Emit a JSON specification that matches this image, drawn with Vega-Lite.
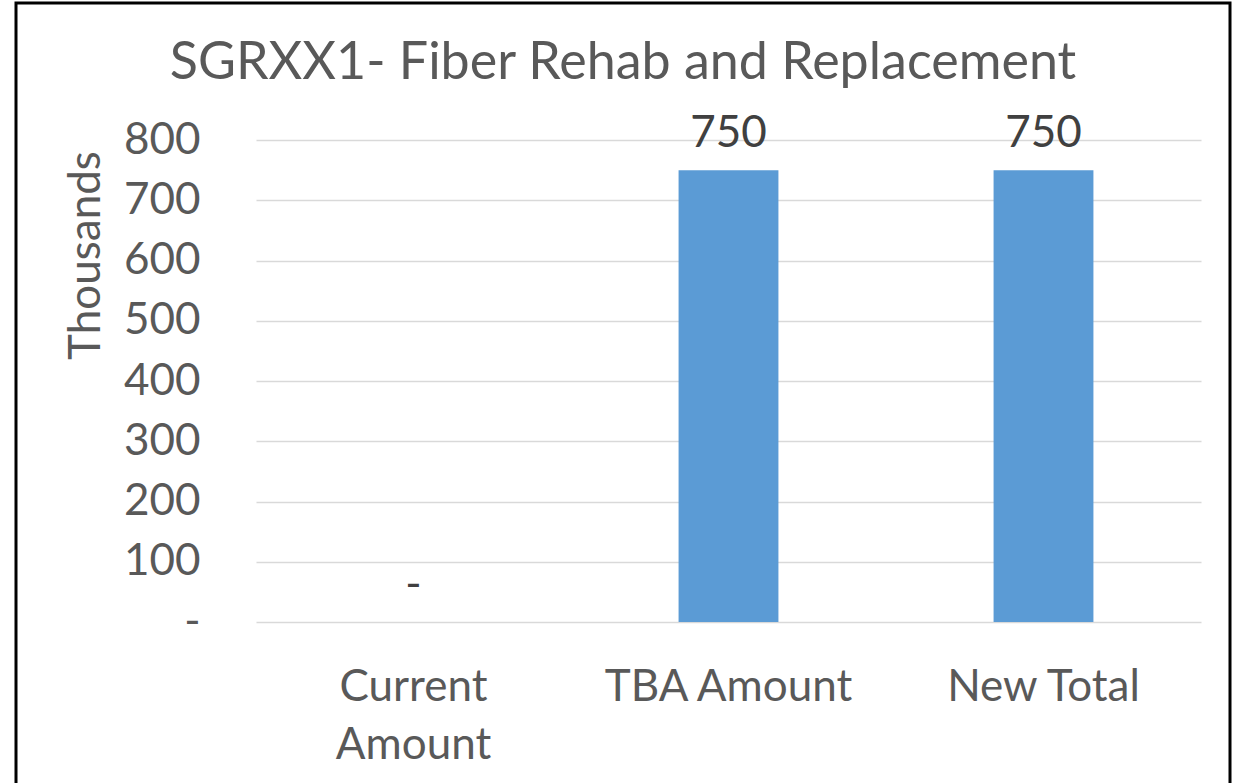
{
  "$schema": "https://vega.github.io/schema/vega-lite/v6.json",
  "width": 1214,
  "height": 800,
  "autosize": "none",
  "padding": {"left": 16, "top": 3, "right": 5, "bottom": 0},
  "background": "white",
  "config": {
    "view": {"stroke": "black", "strokeWidth": 3},
    "font": "Lato"
  },
  "title": {
    "text": "SGRXX1- Fiber Rehab and Replacement",
    "fontSize": 52,
    "font": "Lato",
    "fontWeight": "normal",
    "color": "#595959",
    "baseline": "alphabetic",
    "offset": 0,
    "dy": 128,
    "anchor": "middle"
  },
  "data": {
    "values": [
      {"category": "Current Amount", "value": 0},
      {"category": "TBA Amount", "value": 750},
      {"category": "New Total", "value": 750}
    ]
  },
  "encoding": {
    "x": {
      "field": "category",
      "type": "nominal",
      "sort": null,
      "scale": {"range": [240, 1185], "paddingInner": 0.683, "paddingOuter": 0.3415},
      "axis": {
        "orient": "bottom",
        "offset": -181,
        "domain": false,
        "ticks": false,
        "grid": false,
        "title": null,
        "labelAngle": 0,
        "labelPadding": 78,
        "labelBaseline": "alphabetic",
        "labelFont": "Lato",
        "labelFontSize": 44,
        "labelColor": "#595959",
        "labelLineHeight": 58,
        "labelLimit": 0,
        "labelOverlap": false,
        "labelExpr": "datum.label == 'Current Amount' ? ['Current', 'Amount'] : datum.label"
      }
    },
    "y": {
      "field": "value",
      "type": "quantitative",
      "scale": {"domain": [0, 800], "range": [619, 137], "nice": false, "zero": true},
      "axis": {
        "values": [0, 100, 200, 300, 400, 500, 600, 700, 800],
        "offset": -240,
        "domain": false,
        "ticks": false,
        "grid": true,
        "gridColor": "#D9D9D9",
        "gridWidth": 1.5,
        "labelPadding": 56,
        "labelFont": "Lato",
        "labelFontSize": 44,
        "labelColor": "#595959",
        "labelLimit": 0,
        "labelOverlap": false,
        "labelExpr": "datum.value == 0 ? '-\u00a0\u00a0\u00a0' : datum.label",
        "title": "Thousands",
        "titleFont": "Lato",
        "titleFontSize": 44,
        "titleFontWeight": "normal",
        "titleColor": "#595959",
        "titleAngle": -90,
        "titleAlign": "center",
        "titleBaseline": "alphabetic",
        "titleX": -157,
        "titleY": 252
      }
    }
  },
  "layer": [
    {"mark": {"type": "bar", "color": "#5B9BD5"}},
    {
      "mark": {"type": "text", "dy": -23, "baseline": "alphabetic", "align": "center", "font": "Lato", "fontSize": 44, "color": "#404040"},
      "encoding": {
        "text": {
          "condition": {"test": "datum.value == 0", "value": "-"},
          "field": "value",
          "type": "quantitative",
          "format": ".0f"
        }
      }
    }
  ]
}
